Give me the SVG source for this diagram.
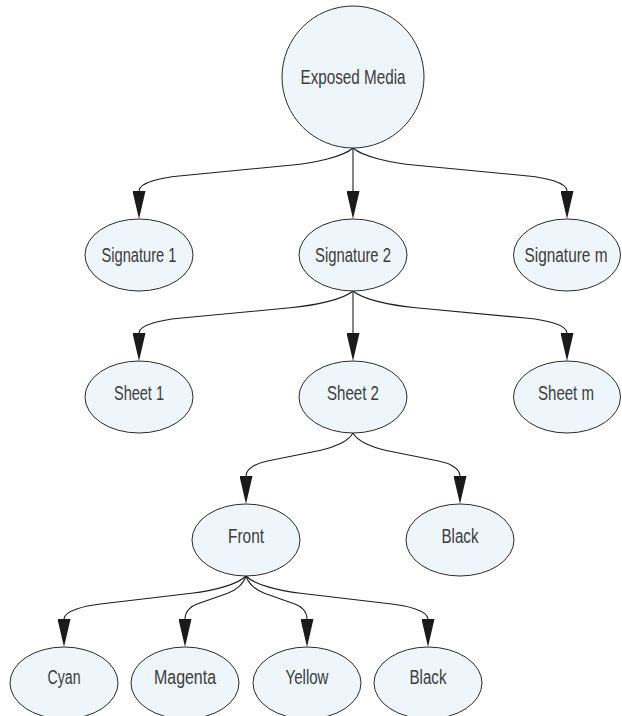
<svg xmlns="http://www.w3.org/2000/svg" width="622" height="716" viewBox="0 0 622 716">
  <style>
    .node { fill: #eef5fb; stroke: #2b2b2b; stroke-width: 1; }
    .label { font-family: "Liberation Sans", Arial, sans-serif; font-size: 20px; fill: #3c3c3c; text-anchor: middle; }
    .edge { fill: none; stroke: #1e1e1e; stroke-width: 1.1; marker-end: url(#arrow); }
  </style>
  <defs>
    <marker id="arrow" markerUnits="userSpaceOnUse" viewBox="0 0 28 13" markerWidth="28" markerHeight="13" refX="0" refY="6.5" orient="auto">
      <path d="M0,0 L28,6.5 L0,13 Z" fill="#1a1a1a"/>
    </marker>
  </defs>
  <rect width="622" height="716" fill="#ffffff"/>

  <g id="connectors">
    <path class="edge" d="M353,148 C343.6,156.6 315.2,162.8 290,165.2 L179,176 C163,177.5 139,182.4 139,191"/>
    <path class="edge" d="M353,148 L353,191"/>
    <path class="edge" d="M353,148 C362.5,156.6 390.8,162.8 416,165.2 L528,176 C544,177.5 567,182.4 567,191"/>
    <path class="edge" d="M353,291 C343.6,299.4 315.2,305.4 290,307.8 L179,318.3 C163,319.8 139,324.6 139,333"/>
    <path class="edge" d="M353,291 L353,333"/>
    <path class="edge" d="M353,291 C362.4,299.4 390.8,305.4 416,307.8 L528,318.3 C544,319.8 567,324.6 567,333"/>
    <path class="edge" d="M353,433 C348.2,441.6 333.7,447.6 320.9,450.2 L267.4,461 C258.8,462.7 246,467.4 246,476"/>
    <path class="edge" d="M353,433 C357.8,441.6 372.3,447.6 385.1,450.2 L438.6,461 C447.2,462.7 460,467.4 460,476"/>
    <path class="edge" d="M246,576 C237.8,584.6 213.2,590.6 191.4,593.2 L100.4,604 C85.8,605.7 64,610.4 64,619"/>
    <path class="edge" d="M246,576 C243.3,584.6 235,590.6 227.7,593.2 L197.2,604 C192.3,605.7 185,610.4 185,619"/>
    <path class="edge" d="M246,576 C248.7,584.6 257,590.6 264.3,593.2 L294.8,604 C299.7,605.7 307,610.4 307,619"/>
    <path class="edge" d="M246,576 C254.2,584.6 278.8,590.6 300.6,593.2 L391.6,604 C406.2,605.7 428,610.4 428,619"/>
  </g>

  <g id="exposed-media">
    <circle class="node" cx="353" cy="77" r="71"/>
    <text class="label" x="353" y="84" textLength="105" lengthAdjust="spacingAndGlyphs">Exposed Media</text>
  </g>

  <g id="signature-1">
    <ellipse class="node" cx="139" cy="255" rx="54" ry="36"/>
    <text class="label" x="139" y="262" textLength="75" lengthAdjust="spacingAndGlyphs">Signature 1</text>
  </g>
  <g id="signature-2">
    <ellipse class="node" cx="353" cy="255" rx="54" ry="36"/>
    <text class="label" x="353" y="262" textLength="76" lengthAdjust="spacingAndGlyphs">Signature 2</text>
  </g>
  <g id="signature-m">
    <ellipse class="node" cx="567" cy="255" rx="53.5" ry="36"/>
    <text class="label" x="566" y="262" textLength="83" lengthAdjust="spacingAndGlyphs">Signature m</text>
  </g>

  <g id="sheet-1">
    <ellipse class="node" cx="139" cy="397" rx="54" ry="36"/>
    <text class="label" x="139" y="400" textLength="50" lengthAdjust="spacingAndGlyphs">Sheet 1</text>
  </g>
  <g id="sheet-2">
    <ellipse class="node" cx="353" cy="397" rx="54" ry="36"/>
    <text class="label" x="353" y="400" textLength="52" lengthAdjust="spacingAndGlyphs">Sheet 2</text>
  </g>
  <g id="sheet-m">
    <ellipse class="node" cx="567" cy="397" rx="53.5" ry="36"/>
    <text class="label" x="566" y="400" textLength="56" lengthAdjust="spacingAndGlyphs">Sheet m</text>
  </g>

  <g id="front">
    <ellipse class="node" cx="246" cy="540" rx="54" ry="36"/>
    <text class="label" x="246" y="543" textLength="36" lengthAdjust="spacingAndGlyphs">Front</text>
  </g>
  <g id="back-black">
    <ellipse class="node" cx="460" cy="540" rx="54" ry="36"/>
    <text class="label" x="460" y="543" textLength="37" lengthAdjust="spacingAndGlyphs">Black</text>
  </g>

  <g id="cyan">
    <ellipse class="node" cx="64" cy="683" rx="54" ry="36"/>
    <text class="label" x="64" y="684" textLength="33" lengthAdjust="spacingAndGlyphs">Cyan</text>
  </g>
  <g id="magenta">
    <ellipse class="node" cx="185" cy="683" rx="54" ry="36"/>
    <text class="label" x="185" y="684" textLength="62" lengthAdjust="spacingAndGlyphs">Magenta</text>
  </g>
  <g id="yellow">
    <ellipse class="node" cx="307" cy="683" rx="54" ry="36"/>
    <text class="label" x="307" y="684" textLength="43" lengthAdjust="spacingAndGlyphs">Yellow</text>
  </g>
  <g id="front-black">
    <ellipse class="node" cx="428" cy="683" rx="54" ry="36"/>
    <text class="label" x="428" y="684" textLength="37" lengthAdjust="spacingAndGlyphs">Black</text>
  </g>
</svg>
